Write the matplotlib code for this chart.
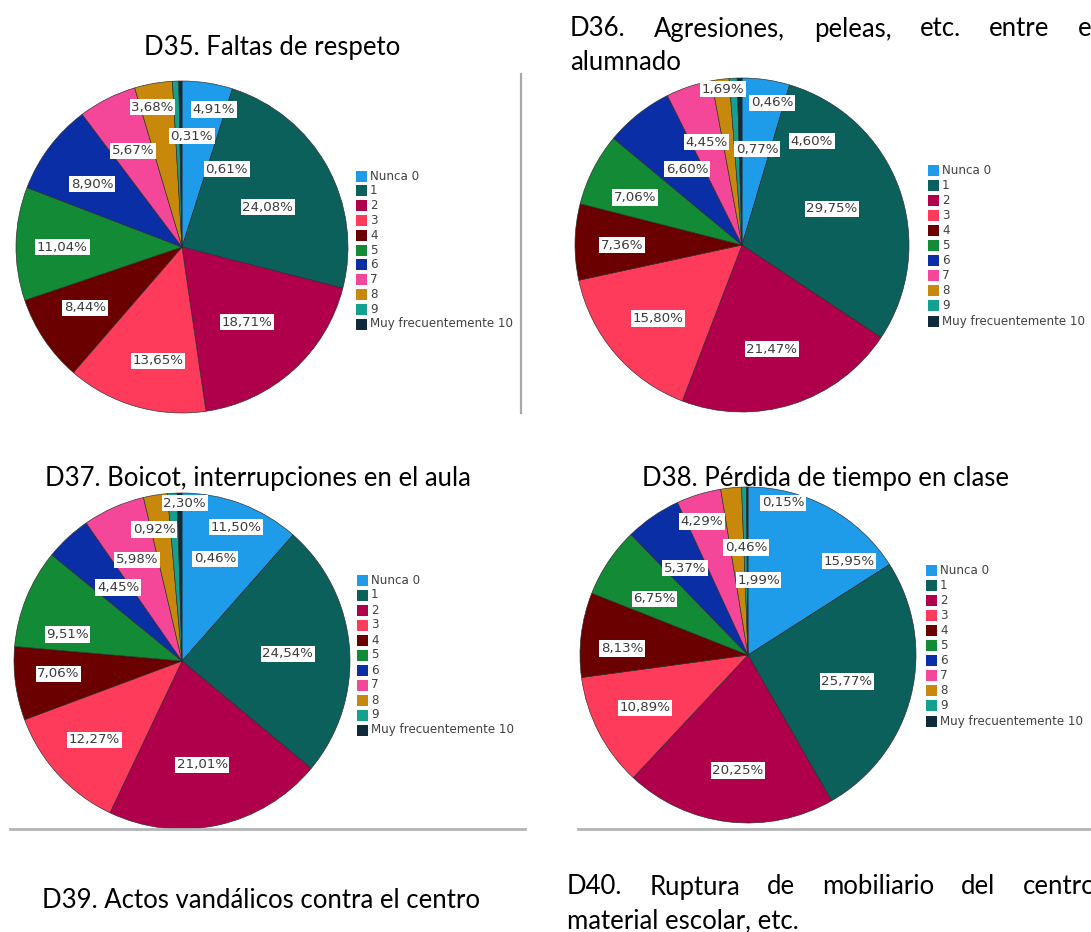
"""Pie charts D35-D38: frequency of classroom conflicts (0-10 scale)."""

import matplotlib

matplotlib.use("Agg")
import matplotlib.pyplot as plt
import numpy as np
from matplotlib.patches import Rectangle
from matplotlib.lines import Line2D

W, H = 1091, 932

categories = ["Nunca 0", "1", "2", "3", "4", "5", "6", "7", "8", "9",
              "Muy frecuentemente 10"]
colors = ["#1e9be9", "#0b605c", "#b0004c", "#ff3b5c", "#6a0000", "#128a36",
          "#0a2ea6", "#f5479a", "#c8880c", "#14a08f", "#0e2a3c"]

d35 = [4.91, 24.08, 18.71, 13.65, 8.44, 11.04, 8.90, 5.67, 3.68, 0.61, 0.31]
d36 = [4.60, 29.75, 21.47, 15.80, 7.36, 7.06, 6.60, 4.45, 1.69, 0.77, 0.46]
d37 = [11.50, 24.54, 21.01, 12.27, 7.06, 9.51, 4.45, 5.98, 2.30, 0.92, 0.46]
d38 = [15.95, 25.77, 20.25, 10.89, 8.13, 6.75, 5.37, 4.29, 1.99, 0.46, 0.15]

# label placement: (angle clockwise from 12 o'clock, fraction of radius)
lab35 = [(13, 0.85), (65, 0.57), (139, 0.60), (192, 0.70), (238, 0.69), (270, 0.72),
         (305, 0.66), (333, 0.65), (348, 0.86), (30, 0.54), (5, 0.67)]
lab36 = [(34, 0.75), (68, 0.58), (164, 0.65), (229, 0.67), (270, 0.72), (294, 0.70),
         (324, 0.56), (341, 0.65), (353, 0.94), (9, 0.58), (12, 0.87)]
lab37 = [(22, 0.86), (86, 0.63), (169, 0.63), (228, 0.70), (264, 0.74), (283, 0.70),
         (319, 0.58), (336, 0.66), (1, 0.94), (348, 0.80), (18, 0.64)]
lab38 = [(47, 0.82), (105, 0.61), (185, 0.69), (243, 0.69), (273, 0.75), (301, 0.65),
         (324, 0.64), (341, 0.84), (8, 0.45), (359, 0.64), (13, 0.93)]

TITLE_FONT = ["Lato", "DejaVu Sans"]
TITLE_SIZE = 18.5

fig = plt.figure(figsize=(W / 100, H / 100), dpi=100)
fig.patch.set_facecolor("white")
renderer = fig.canvas.get_renderer()


def fx(x):
    return x / W


def fy(y):
    return 1 - y / H


def title(x, y, s, ha="left"):
    return fig.text(fx(x), fy(y), s, ha=ha, va="center", fontsize=TITLE_SIZE,
                    family=TITLE_FONT, color="black")


def justified(words, x0, x1, y):
    # spread the words of a justified line between x0 and x1 (pixels)
    texts = [title(0, y, w) for w in words]
    widths = [t.get_window_extent(renderer).width for t in texts]
    gap = (x1 - x0 - sum(widths)) / (len(words) - 1)
    x = x0
    for t, w in zip(texts, widths):
        t.set_x(fx(x))
        x += w + gap


def pie(values, labels, cx, cy, r, leg_x, leg_y0, leg_step):
    ax = fig.add_axes([fx(cx - r), fy(cy + r), 2 * r / W, 2 * r / H])
    ax.pie(values, colors=colors, startangle=90, counterclock=False, radius=1,
           wedgeprops=dict(edgecolor="#2b2b2b", linewidth=0.45))
    ax.set_xlim(-1, 1)
    ax.set_ylim(-1, 1)
    ax.set_aspect("equal")
    ax.axis("off")
    for v, (ang, rf) in zip(values, labels):
        a = np.deg2rad(ang)
        ax.text(rf * np.sin(a), rf * np.cos(a), f"{v:.2f}".replace(".", ",") + "%",
                ha="center", va="center", fontsize=9.6, color="#3a3a3a",
                bbox=dict(boxstyle="square,pad=0.12", fc="white", ec="none"))
    # legend
    for i, (lab, c) in enumerate(zip(categories, colors)):
        y = leg_y0 + i * leg_step
        fig.patches.append(Rectangle((fx(leg_x), fy(y + 5.5)), 11 / W, 11 / H,
                                     transform=fig.transFigure, fc=c, ec="none"))
        fig.text(fx(leg_x + 14), fy(y), lab, ha="left", va="center",
                 fontsize=8.6, color="#404040")


pie(d35, lab35, 182, 247, 166, 356, 176, 14.8)
pie(d36, lab36, 742, 245, 167, 928, 170, 15.1)
pie(d37, lab37, 182, 661, 168, 357, 580, 15.0)
pie(d38, lab38, 748, 655, 168, 926, 570, 15.1)

# titles (D36 and D40 are justified paragraphs running past the right edge)
title(272, 47, "D35. Faltas de respeto", ha="center")
justified(["D36.", "Agresiones,", "peleas,", "etc.", "entre", "el"], 570, 1098, 29)
title(570, 62, "alumnado")
title(45, 478, "D37. Boicot, interrupciones en el aula")
title(642, 478, "D38. Pérdida de tiempo en clase")
title(42, 900, "D39. Actos vandálicos contra el centro")
justified(["D40.", "Ruptura", "de", "mobiliario", "del", "centro,"], 567, 1102, 887)
title(567, 921, "material escolar, etc.")

# panel separators
fig.add_artist(Line2D([fx(521), fx(521)], [fy(74), fy(413)], color="#a8a8a8", lw=1.6))
fig.add_artist(Line2D([fx(10), fx(525)], [fy(829), fy(829)], color="#b4b4b4", lw=2))
fig.add_artist(Line2D([fx(578), fx(1091)], [fy(829), fy(829)], color="#b4b4b4", lw=2))

fig.savefig("out.png", dpi=100, facecolor="white")
plt.close(fig)
